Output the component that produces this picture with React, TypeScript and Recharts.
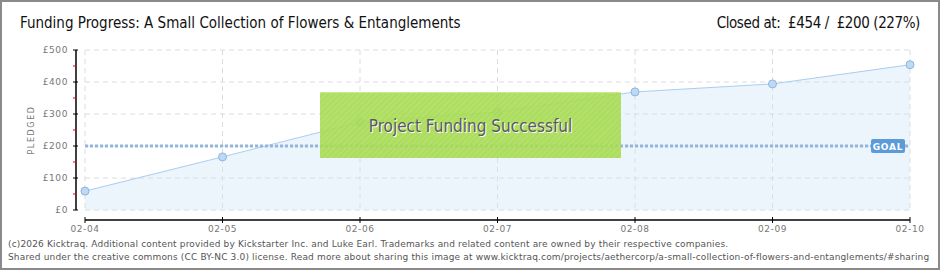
import React from "react";
import {
  Area,
  AreaChart,
  CartesianGrid,
  ReferenceLine,
  XAxis,
  YAxis,
} from "recharts";

const days = ["02-04", "02-05", "02-06", "02-07", "02-08", "02-09", "02-10"];
const pledged = [59, 166, 275, 306, 369, 394, 454];
const yTicks = [0, 50, 100, 150, 200, 250, 300, 350, 400, 450, 500];
const gridValues = [0, 100, 200, 300, 400, 500];
const goal = 200;

const W = 940;
const H = 270;
const NARROW = '"Liberation Sans Narrow", "DejaVu Sans Condensed", sans-serif';
const SMALL = '"DejaVu Sans", Verdana, sans-serif';

// axis lines sit a little outside the plot, like the original kicktraq charts
const X_AXIS_BASE = -31.25;
const Y_AXIS_BASE = -0.0655;

const data = days.map((d, i) => ({ i, day: d, pledged: pledged[i] }));

function XTick(props: any) {
  const { x, y, payload } = props;
  return (
    <g>
      <line x1={x} x2={x} y1={y + 7} y2={y + 13} stroke="#000" strokeWidth={1} />
      <text
        x={x}
        y={y + 22}
        textAnchor="middle"
        fontSize={9}
        fontFamily={SMALL}
        fill="#777"
        letterSpacing={0.6}
      >
        {days[payload.value]}
      </text>
    </g>
  );
}

function YTick(props: any) {
  const { x, y, payload } = props;
  const major = payload.value % 100 === 0;
  if (!major) {
    return <line x1={x - 12} x2={x - 9} y1={y} y2={y} stroke="#e00" strokeWidth={1} />;
  }
  return (
    <g>
      <line x1={x - 12} x2={x - 7} y1={y} y2={y} stroke="#000" strokeWidth={1} />
      <text
        x={x - 17}
        y={y + 3}
        textAnchor="end"
        fontSize={9}
        fontFamily={SMALL}
        fill="#777"
        letterSpacing={0.6}
      >
        £{payload.value}
      </text>
    </g>
  );
}

function GoalLabel(props: any) {
  const { viewBox } = props;
  const right = viewBox.x + viewBox.width;
  const cy = viewBox.y;
  return (
    <g>
      <rect x={right - 39} y={cy - 7} width={34} height={14} rx={2} fill="#5b9bd9" />
      <text
        x={right - 22}
        y={cy + 3.5}
        textAnchor="middle"
        fontSize={9}
        fontWeight="bold"
        fontFamily={SMALL}
        fill="#fff"
        letterSpacing={0.8}
      >
        GOAL
      </text>
    </g>
  );
}

function PledgedLabel(props: any) {
  const { viewBox } = props;
  const cx = viewBox.x + 34;
  const cy = viewBox.y + viewBox.height / 2;
  return (
    <text
      x={cx}
      y={cy}
      transform={`rotate(-90 ${cx} ${cy})`}
      textAnchor="middle"
      fontSize={8}
      fontFamily={SMALL}
      fill="#777"
      letterSpacing={1.6}
    >
      PLEDGED
    </text>
  );
}

export default function App() {
  return (
    <div
      style={{
        position: "absolute",
        left: 0,
        top: 0,
        width: W,
        height: H,
        background: "#fff",
        overflow: "hidden",
      }}
    >
      <AreaChart
        width={W}
        height={H}
        data={data}
        margin={{ top: 50, right: 30, bottom: 0, left: 0 }}
      >
        <CartesianGrid
          stroke="#dcdcdc"
          strokeDasharray="5 4"
          horizontalValues={gridValues}
          verticalValues={days.map((_, i) => i)}
        />
        <XAxis
          dataKey="i"
          type="number"
          domain={[0, days.length - 1]}
          ticks={days.map((_, i) => i)}
          interval={0}
          height={60}
          axisLine={false}
          tickLine={false}
          tickSize={0}
          tickMargin={0}
          tick={<XTick />}
        />
        <YAxis
          type="number"
          domain={[0, 500]}
          ticks={yTicks}
          interval={0}
          width={85}
          axisLine={false}
          tickLine={false}
          tickSize={0}
          tickMargin={0}
          tick={<YTick />}
          label={{ content: <PledgedLabel /> }}
        />
        <ReferenceLine
          segment={[
            { x: 0, y: X_AXIS_BASE },
            { x: days.length - 1, y: X_AXIS_BASE },
          ]}
          stroke="#000"
          strokeWidth={1.5}
          ifOverflow="visible"
        />
        <ReferenceLine
          segment={[
            { x: Y_AXIS_BASE, y: 0 },
            { x: Y_AXIS_BASE, y: 500 },
          ]}
          stroke="#000"
          strokeWidth={1.5}
          ifOverflow="visible"
        />
        <Area
          type="linear"
          dataKey="pledged"
          stroke="#a9cdf0"
          strokeWidth={1}
          fill="#cfe3f8"
          fillOpacity={0.4}
          baseValue={0}
          dot={{ r: 4, fill: "#bdd9f4", stroke: "#8cb5df", strokeWidth: 1, fillOpacity: 1 }}
          activeDot={false}
          isAnimationActive={false}
        />
        <ReferenceLine
          y={goal}
          stroke="#93b6de"
          strokeWidth={3}
          strokeDasharray="3 2"
          label={<GoalLabel />}
        />
      </AreaChart>

      <div
        style={{
          position: "absolute",
          left: 20,
          top: 14,
          fontFamily: NARROW,
          fontSize: 15,
          color: "#111",
          whiteSpace: "pre",
        }}
      >
        Funding Progress: A Small Collection of Flowers &amp; Entanglements
      </div>
      <div
        style={{
          position: "absolute",
          right: 20,
          top: 14,
          fontFamily: NARROW,
          fontSize: 15,
          letterSpacing: -0.4,
          color: "#111",
          whiteSpace: "pre",
        }}
      >
        {"Closed at:  £454 /  £200 (227%)"}
      </div>

      <div
        style={{
          position: "absolute",
          left: 320,
          top: 92,
          width: 301,
          height: 66,
          background:
            "repeating-linear-gradient(135deg, rgba(255,255,255,0.07) 0 2px, rgba(255,255,255,0) 2px 4px), #a6db4f",
          opacity: 0.9,
          borderTop: "1px solid #c2e98a",
          boxSizing: "border-box",
          display: "flex",
          alignItems: "center",
          justifyContent: "center",
          fontFamily: NARROW,
          fontSize: 17,
          color: "#4a4a4a",
          textShadow: "1px 1px 0 #fff",
        }}
      >
        Project Funding Successful
      </div>

      <div
        style={{
          position: "absolute",
          left: 8,
          top: 238,
          fontFamily: SMALL,
          fontSize: 9,
          lineHeight: "13px",
          letterSpacing: 0.16,
          color: "#555",
          whiteSpace: "pre",
        }}
      >
        {"(c)2026 Kicktraq. Additional content provided by Kickstarter Inc. and Luke Earl. Trademarks and related content are owned by their respective companies.\nShared under the creative commons (CC BY-NC 3.0) license. Read more about sharing this image at www.kicktraq.com/projects/aethercorp/a-small-collection-of-flowers-and-entanglements/#sharing"}
      </div>

      <div
        style={{
          position: "absolute",
          inset: 0,
          border: "2px solid #8a8a8a",
          pointerEvents: "none",
        }}
      />
    </div>
  );
}
